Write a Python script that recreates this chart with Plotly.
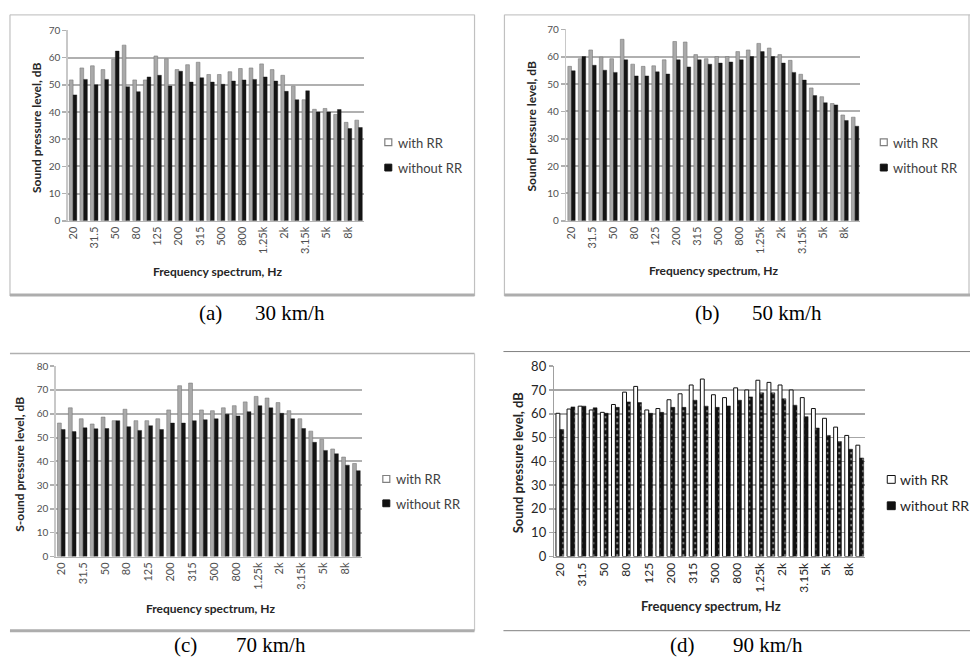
import plotly.graph_objects as go

W, H = 970, 667

categories = ["20", "25", "31.5", "40", "50", "63", "80", "100", "125", "160", "200", "250",
              "315", "400", "500", "630", "800", "1k", "1.25k", "1.6k", "2k", "2.5k", "3.15k",
              "4k", "5k", "6.3k", "8k", "10k"]
tick_labels = categories[::2]

# (a) 30 km/h
a_with = [51.8, 56.2, 57.0, 55.6, 59.4, 64.6, 51.8, 51.8, 60.6, 59.6, 55.6, 57.4, 58.3, 53.8,
          53.8, 54.8, 56.0, 56.2, 57.7, 55.6, 53.5, 49.5, 44.5, 41.0, 41.3, 39.1, 36.2, 37.0]
a_without = [46.3, 52.0, 50.0, 52.0, 62.4, 49.3, 47.5, 52.9, 53.5, 49.6, 55.0, 51.0, 52.6, 51.0,
             50.2, 51.4, 51.8, 52.0, 52.9, 51.4, 47.6, 44.5, 47.8, 40.0, 40.0, 40.9, 33.9, 34.3]
# (b) 50 km/h
b_with = [56.5, 59.3, 62.5, 59.9, 59.3, 66.4, 57.3, 56.5, 56.7, 58.9, 65.6, 65.4, 60.8, 59.3,
          60.1, 60.1, 61.9, 62.5, 64.9, 63.2, 60.8, 58.7, 53.6, 48.6, 45.4, 42.9, 38.7, 37.9]
b_without = [54.9, 60.1, 56.9, 55.1, 54.3, 58.9, 53.0, 53.0, 54.5, 53.7, 58.9, 56.3, 58.9, 57.3,
             57.7, 58.1, 58.9, 60.1, 61.9, 60.1, 57.7, 54.3, 51.5, 45.8, 43.2, 42.4, 36.7, 34.6]
# (c) 70 km/h
c_with = [56.1, 62.5, 57.9, 55.7, 58.6, 57.1, 61.9, 57.1, 57.1, 57.9, 61.6, 71.8, 72.9, 61.6,
          61.3, 62.5, 63.4, 65.0, 67.3, 66.6, 64.7, 61.3, 57.9, 52.7, 49.3, 45.2, 41.8, 39.1]
c_without = [53.4, 52.5, 54.1, 53.7, 53.8, 57.1, 54.6, 53.0, 55.0, 53.4, 56.1, 56.1, 57.1, 57.5,
             57.9, 59.8, 59.1, 60.9, 63.4, 62.5, 60.2, 57.9, 53.8, 48.0, 44.6, 43.2, 38.4, 36.1]
# (d) 90 km/h
d_with = [60.2, 62.0, 63.2, 61.6, 60.6, 63.9, 69.1, 71.5, 61.6, 62.2, 65.9, 68.4, 72.1, 74.6,
          68.0, 66.8, 70.9, 70.0, 74.1, 73.2, 72.1, 70.0, 66.8, 62.2, 58.1, 54.4, 50.9, 46.8]
d_without = [53.4, 62.9, 63.2, 62.5, 60.2, 62.7, 65.0, 64.7, 60.2, 60.6, 62.7, 62.7, 65.7, 63.2,
             62.7, 63.3, 65.7, 67.1, 68.8, 68.8, 66.3, 63.6, 58.8, 54.0, 50.9, 48.3, 45.1, 41.4]

series_names = ["with RR", "without RR"]
captions = [("(a)", "30 km/h"), ("(b)", "50 km/h"), ("(c)", "70 km/h"), ("(d)", "90 km/h")]
x_title = "Frequency spectrum, Hz"
y_titles = ["Sound pressure level, dB", "Sound pressure level, dB",
            "S-ound pressure level, dB", "Sound pressure level, dB"]
y_max = [70, 70, 80, 80]

FONT = "Lato"
SERIF = "Liberation Serif"


def px(x):
    return x / W


def py(y):
    return 1 - y / H


fig = go.Figure()

panels = [
    dict(data=(a_with, a_without), xd=(65, 362), yd=(23, 218), style="blur"),
    dict(data=(b_with, b_without), xd=(565, 860), yd=(22, 218), style="blur"),
    dict(data=(c_with, c_without), xd=(53, 360), yd=(367, 562), style="blur"),
    dict(data=(d_with, d_without), xd=(553, 865), yd=(367, 562), style="sharp"),
]

for i, p in enumerate(panels):
    n = i + 1
    xa = "x" if n == 1 else f"x{n}"
    ya = "y" if n == 1 else f"y{n}"
    w_vals, wo_vals = p["data"]
    if p["style"] == "blur":
        m_with = dict(color="#a9a9a9", line=dict(color="#7a7a7a", width=0.6))
        m_without = dict(color="#141414", line=dict(color="#141414", width=0.4))
    else:
        m_with = dict(color="white", line=dict(color="#111111", width=1))
        m_without = dict(color="#111111", line=dict(color="#111111", width=0.5),
                         pattern=dict(shape=".", fgcolor="white", bgcolor="#111111",
                                      size=6, solidity=0.12))
    fig.add_trace(go.Bar(x=categories, y=w_vals, name=series_names[0], marker=m_with,
                         xaxis=xa, yaxis=ya, showlegend=False))
    fig.add_trace(go.Bar(x=categories, y=wo_vals, name=series_names[1], marker=m_without,
                         xaxis=xa, yaxis=ya, showlegend=False))

    sharp = p["style"] == "sharp"
    gridc = "#a6a6a6" if sharp else "#b0b0b0"
    xkey = "xaxis" if n == 1 else f"xaxis{n}"
    ykey = "yaxis" if n == 1 else f"yaxis{n}"
    fig.layout[xkey] = dict(
        domain=[px(p["xd"][0]), px(p["xd"][1])], anchor=ya,
        type="category", tickmode="array", tickvals=tick_labels, ticktext=tick_labels,
        tickangle=-90, tickfont=dict(family=FONT, size=12 if sharp else 11,
                                     color="#262626" if sharp else "#505050"),
        showline=True, linecolor="#a0a0a0" if sharp else "#b4b4b4", linewidth=1.5,
        showgrid=False, ticks="", fixedrange=True)
    fig.layout[ykey] = dict(
        domain=[py(p["yd"][1]), py(p["yd"][0])], anchor=xa,
        range=[0, y_max[i]], dtick=10, tick0=0,
        tickfont=dict(family=FONT, size=13 if sharp else 10,
                      color="#262626" if sharp else "#505050"),
        showgrid=True, gridcolor=gridc, gridwidth=1.5 if sharp else 2,
        showline=True, linecolor="#a0a0a0" if sharp else "#c8c8c8", linewidth=1.5,
        ticks="outside", ticklen=4, tickcolor=gridc, tickwidth=1.5,
        zeroline=False, fixedrange=True)

shapes = []
annotations = []


def line(x0, y0, x1, y1, color, width):
    shapes.append(dict(type="line", xref="paper", yref="paper", x0=px(x0), y0=py(y0),
                       x1=px(x1), y1=py(y1), line=dict(color=color, width=width)))


def rect(x0, y0, x1, y1, fill, lc, lw=1):
    shapes.append(dict(type="rect", xref="paper", yref="paper", x0=px(x0), y0=py(y0),
                       x1=px(x1), y1=py(y1), fillcolor=fill, line=dict(color=lc, width=lw)))


def text(x, y, s, size, family=FONT, color="#262626", bold=False, angle=0, xanchor="center"):
    if bold:
        s = f"<b>{s}</b>"
    annotations.append(dict(xref="paper", yref="paper", x=px(x), y=py(y), text=s,
                            showarrow=False, textangle=angle, xanchor=xanchor,
                            yanchor="middle", font=dict(family=family, size=size, color=color)))


# Panel frames
# (a)
line(7, 7, 473, 7, "#c8c8c8", 1.2)
line(7, 7, 7, 295, "#c0c0c0", 1.2)
line(473, 7, 473, 295, "#c0c0c0", 1.2)
line(7, 294, 473, 294, "#adadad", 3)
# (b)
line(503, 7, 970, 7, "#c8c8c8", 1.2)
line(503, 7, 503, 295, "#c0c0c0", 1.2)
line(969, 7, 969, 295, "#c0c0c0", 1.2)
line(503, 294, 970, 294, "#adadad", 3)
# (c)
line(7, 354, 473, 354, "#b0b0b0", 1.5)
line(473, 354, 473, 638, "#c8c8c8", 1.2)
line(7, 638, 473, 638, "#adadad", 3)
# (d)
line(502, 352, 970, 352, "#808080", 1)
line(502, 638, 970, 638, "#808080", 1)

# Axis titles
text(33, 123, y_titles[0], 12, bold=True, angle=-90)
text(215, 270, x_title, 12, bold=True)
text(530, 121, y_titles[1], 12, bold=True, angle=-90)
text(713, 269, x_title, 12, bold=True)
text(17, 467, y_titles[2], 12, bold=True, angle=-90)
text(208, 615, x_title, 12, bold=True)
text(516, 465, y_titles[3], 13, bold=True, angle=-90)
text(710, 613, x_title, 13, bold=True)

# Legends
legend_pos = [(383, 138, 164, 13, "blur"), (880, 138, 164, 13, "blur"),
              (381, 483, 508, 13, "blur"), (887, 483, 510, 14, "sharp")]
for (lx, ly1, ly2, fs, st) in legend_pos:
    if st == "blur":
        rect(lx, ly1 - 4, lx + 7, ly1 + 3, "white", "#808080", 1.2)
        rect(lx, ly2 - 4, lx + 7, ly2 + 3, "#111111", "#111111", 1)
        col = "#404040"
    else:
        rect(lx, ly1 - 4, lx + 8, ly1 + 4, "white", "#111111", 1)
        rect(lx, ly2 - 4, lx + 8, ly2 + 4, "#111111", "#111111", 1)
        col = "#262626"
    text(lx + 11, ly1, series_names[0], fs, color=col, xanchor="left")
    text(lx + 11, ly2, series_names[1], fs, color=col, xanchor="left")

# Captions
cap_pos = [((208, 287.5), 312), ((707, 786), 312), ((183, 269), 653), ((682, 767), 653)]
for (cx, cy), (lab, sp) in zip(cap_pos, captions):
    text(cx[0], cy, lab, 21, family=SERIF, color="black")
    text(cx[1], cy, sp, 21, family=SERIF, color="black")

fig.update_layout(
    width=W, height=H, margin=dict(l=0, r=0, t=0, b=0),
    paper_bgcolor="white", plot_bgcolor="white",
    barmode="group", bargap=0.3, bargroupgap=0.0,
    shapes=shapes, annotations=annotations, showlegend=False,
    font=dict(family=FONT),
)

fig.write_html("out.html", config={"displayModeBar": False, "staticPlot": True},
               post_script="document.body.style.margin='0';document.body.style.overflow='hidden';")
